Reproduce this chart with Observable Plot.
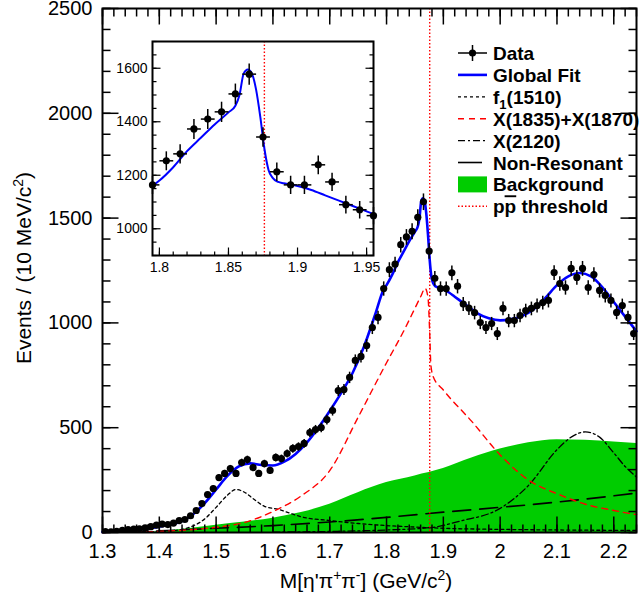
<!DOCTYPE html>
<html><head><meta charset="utf-8">
<script src="https://cdn.jsdelivr.net/npm/d3@7"></script>
<script src="https://cdn.jsdelivr.net/npm/@observablehq/plot@0.6"></script>
<style>
html,body{margin:0;padding:0;background:white;}
#wrap{position:relative;width:639px;height:601px;overflow:hidden;background:white;}
#wrap > svg{position:absolute;}
#err{position:absolute;left:2px;bottom:2px;font:9px monospace;color:#900;margin:0;z-index:9;white-space:pre-wrap;width:630px}
</style></head><body><div id="wrap"><pre id="err"></pre></div>
<script>
window.onerror = (m, s, l, c, e) => { document.getElementById("err").textContent += "ERR " + m + " @" + l + ":" + c + "\n"; };
</script>
<script>
// ---------- data ----------
const dataCounts = [4,3,5,10,14,16,18,22,28,35,
  40,38,45,57,62,80,105,138,181,210,
  262,282,305,282,334,348,310,282,329,296,
  358,353,377,401,410,425,477,491,501,539,
  582,677,682,740,821,840,892,978,1026,1164,
  1254,1280,1373,1410,1437,1504,1578,1343,1213,1164,
  1164,1239,1175,1090,1071,1049,1002,978,997,949,
  1069,1011,1011,1035,1059,1069,1083,1097,1107,1240,
  1188,1169,1260,1217,1260,1169,1231,1155,1131,1107,
  1050,1083,1026,949];
const binFirstCenter = 1.305, binWidth = 0.01;

const fitX = [1.30,1.32,1.34,1.36,1.38,1.40,1.42,1.44,1.46,1.48,1.50,1.52,1.54,1.56,1.58,1.60,1.62,1.64,1.66,1.68,1.70,1.72,1.74,1.76,1.78,1.795,1.80,1.81,1.82,1.83,1.84,1.85,1.855,1.858,1.861,1.864,1.867,1.87,1.873,1.876,1.879,1.882,1.886,1.89,1.90,1.91,1.92,1.93,1.94,1.95,1.96,1.98,2.00,2.02,2.04,2.06,2.08,2.10,2.12,2.14,2.16,2.18,2.20,2.22,2.24];
const fitY = [3,6,10,14,20,28,38,55,88,140,205,270,315,330,322,320,338,375,430,500,580,665,760,885,1040,1160,1180,1230,1290,1340,1390,1435,1460,1500,1580,1595,1580,1520,1420,1300,1220,1190,1175,1170,1160,1145,1125,1105,1085,1065,1045,1022,1012,1018,1035,1068,1120,1180,1222,1238,1222,1170,1100,1030,960];

const x18X = [1.30,1.35,1.40,1.45,1.50,1.55,1.60,1.65,1.70,1.75,1.80,1.83,1.85,1.86,1.868,1.873,1.876,1.878,1.882,1.90,1.95,2.00,2.05,2.10,2.15,2.20,2.24];
const x18Y = [0,2,5,12,25,48,100,175,295,550,810,960,1070,1125,1165,1120,950,800,745,680,530,370,250,185,135,105,85];

const f1X = [1.30,1.38,1.42,1.44,1.46,1.48,1.50,1.52,1.535,1.55,1.565,1.585,1.61,1.63,1.65,1.70,1.75,1.80,1.85,1.90,2.00,2.10,2.24];
const f1Y = [0,2,8,15,32,65,120,178,205,192,162,125,110,92,75,57,43,33,26,20,15,12,10];

const x2120X = [1.60,1.70,1.80,1.88,1.93,2.00,2.05,2.10,2.125,2.15,2.175,2.20,2.22,2.24];
const x2120Y = [2,5,12,24,55,115,225,395,455,480,455,380,315,265];

const nrX = [1.30,1.40,1.50,1.60,1.70,1.80,1.90,2.00,2.10,2.20,2.24];
const nrY = [0,8,20,33,50,72,97,120,145,175,188];

const bgX = [1.38,1.40,1.45,1.50,1.55,1.60,1.65,1.70,1.75,1.80,1.85,1.90,1.95,2.00,2.05,2.10,2.15,2.20,2.24];
const bgY = [0,5,18,35,50,68,95,135,190,238,270,305,355,398,428,443,440,432,425];

const threshold = 1.876;

const xTickValues = [1.3,1.4,1.5,1.6,1.7,1.8,1.9,2.0,2.1,2.2];
const yTickValues = [0,500,1000,1500,2000,2500];
const insetXTicks = [1.8,1.85,1.9,1.95];
const insetYTicks = [1000,1200,1400,1600];

const legendLabels = ["Data","Global Fit","f1(1510)","X(1835)+X(1870)","X(2120)","Non-Resonant","Background","pp threshold"];

// ---------- tables ----------
const pts = (xs, ys) => xs.map((x, i) => ({x, y: ys[i]}));
const data = dataCounts.map((c, i) => ({x: +(binFirstCenter + i*binWidth).toFixed(3), y: c, e: Math.sqrt(c)}));
const fit = pts(fitX, fitY), x18 = pts(x18X, x18Y), f1 = pts(f1X, f1Y),
      x2120 = pts(x2120X, x2120Y), nr = pts(nrX, nrY), bg = pts(bgX, bgY);

const FONT = "'Liberation Sans', Arial, Helvetica, sans-serif";
const fmt = d => String(+d.toFixed(2));
const fmtY = d => String(d);

// inward ROOT-style ticks drawn as links through the plot's scales
// (tick length given in pixels and converted with the frame's pixels-per-unit)
function tickLinks(vals, side, lenPx, xd, yd, fw, fh, sw) {
  const xu = (xd[1] - xd[0]) / fw, yu = (yd[1] - yd[0]) / fh;
  const o = {stroke: "black", strokeWidth: sw};
  if (side === "bottom") return Plot.link(vals, {x1: d => d, x2: d => d, y1: () => yd[0], y2: () => yd[0] + lenPx*yu, ...o});
  if (side === "top") return Plot.link(vals, {x1: d => d, x2: d => d, y1: () => yd[1], y2: () => yd[1] - lenPx*yu, ...o});
  if (side === "left") return Plot.link(vals, {y1: d => d, y2: d => d, x1: () => xd[0], x2: () => xd[0] + lenPx*xu, ...o});
  return Plot.link(vals, {y1: d => d, y2: d => d, x1: () => xd[1], x2: () => xd[1] - lenPx*xu, ...o});
}

// ---------- main plot ----------
const W = 639, H = 601, ML = 102, MR = 3, MT = 8, MB = 69;
const FW = W - ML - MR, FH = H - MT - MB;
const xMinor = d3.range(0, 48).map(i => 1.3 + i*0.02);
const yMinor = d3.range(0, 26).map(i => i*100);
const XD = [1.3, 2.24], YD = [0, 2500];

const main = Plot.plot({
  width: W, height: H,
  marginLeft: ML, marginRight: MR, marginTop: MT, marginBottom: MB,
  x: {domain: XD}, y: {domain: YD},
  style: {fontFamily: FONT, fontSize: "20px", background: "white", overflow: "visible"},
  marks: [
    Plot.areaY(bg, {x: "x", y: "y", fill: "#00cc00", curve: "monotone-x"}),
    Plot.line(nr, {x: "x", y: "y", stroke: "black", strokeWidth: 1.6, strokeDasharray: "18,9", curve: "monotone-x"}),
    Plot.line(x2120, {x: "x", y: "y", stroke: "black", strokeWidth: 1.3, strokeDasharray: "7,3,2,3", curve: "monotone-x"}),
    Plot.line(f1, {x: "x", y: "y", stroke: "black", strokeWidth: 1.3, strokeDasharray: "3,3", curve: "monotone-x"}),
    Plot.line(x18, {x: "x", y: "y", stroke: "#ff0000", strokeWidth: 1.4, strokeDasharray: "6,5", curve: "monotone-x"}),
    Plot.ruleX([threshold], {stroke: "#ff0000", strokeWidth: 1.4, strokeDasharray: "1.5,2"}),
    Plot.line(fit, {x: "x", y: "y", stroke: "#0000ff", strokeWidth: 2.6, curve: "monotone-x"}),
    Plot.link(data, {x1: "x", x2: "x", y1: d => d.y - d.e, y2: d => d.y + d.e, stroke: "black", strokeWidth: 1.5, clip: true}),
    Plot.link(data, {x1: d => d.x - binWidth/2, x2: d => d.x + binWidth/2, y1: "y", y2: "y", stroke: "black", strokeWidth: 1.5, clip: true}),
    Plot.dot(data, {x: "x", y: "y", r: 3.6, fill: "black", clip: true}),
    tickLinks(xMinor, "bottom", 8, XD, YD, FW, FH, 1.5), tickLinks(xTickValues, "bottom", 16, XD, YD, FW, FH, 1.5),
    tickLinks(xMinor, "top", 8, XD, YD, FW, FH, 1.5), tickLinks(xTickValues, "top", 16, XD, YD, FW, FH, 1.5),
    tickLinks(yMinor, "left", 8, XD, YD, FW, FH, 1.5), tickLinks(yTickValues, "left", 16, XD, YD, FW, FH, 1.5),
    tickLinks(yMinor, "right", 8, XD, YD, FW, FH, 1.5), tickLinks(yTickValues, "right", 16, XD, YD, FW, FH, 1.5),
    Plot.frame({stroke: "black", strokeWidth: 2}),
    Plot.axisX(xTickValues, {tickSize: 0, tickPadding: 11, fontSize: 20, tickFormat: fmt, label: null}),
    Plot.axisY(yTickValues, {tickSize: 0, tickPadding: 10, fontSize: 20, tickFormat: fmtY, label: null})
  ]
});
main.style.left = "0px"; main.style.top = "0px";

// axis titles
const ms = d3.select(main);
const yl = ms.append("text").attr("font-family", FONT).attr("font-size", 21).attr("fill", "black")
  .attr("text-anchor", "middle").attr("transform", "translate(31,268) rotate(-90)");
yl.append("tspan").text("Events / (10 MeV/c");
yl.append("tspan").attr("font-size", 14).attr("dy", -8).text("2");
yl.append("tspan").attr("dy", 8).text(")");

const xl = ms.append("text").attr("font-family", FONT).attr("font-size", 21).attr("fill", "black")
  .attr("text-anchor", "middle").attr("x", 366).attr("y", 588);
xl.append("tspan").text("M[η'π");
xl.append("tspan").attr("font-size", 14).attr("dy", -8).text("+");
xl.append("tspan").attr("dy", 8).text("π");
xl.append("tspan").attr("font-size", 14).attr("dy", -8).text("-");
xl.append("tspan").attr("dy", 8).text("] (GeV/c");
xl.append("tspan").attr("font-size", 14).attr("dy", -8).text("2");
xl.append("tspan").attr("dy", 8).text(")");

// legend
const lg = ms.append("g").attr("font-family", FONT).attr("font-weight", "bold").attr("font-size", 19)
  .attr("fill", "black").attr("text-anchor", "start");
const L0 = 458, L1 = 487, TX = 493;
const rowY = legendLabels.map((_, i) => 53 + i*21.9);
const seg = (cy, stroke, sw, dash) => lg.append("line").attr("x1", L0).attr("x2", L1).attr("y1", cy).attr("y2", cy)
  .attr("stroke", stroke).attr("stroke-width", sw).attr("stroke-dasharray", dash || null);
seg(rowY[0], "black", 1.5);
lg.append("line").attr("x1", (L0+L1)/2).attr("x2", (L0+L1)/2).attr("y1", rowY[0]-8).attr("y2", rowY[0]+8).attr("stroke", "black").attr("stroke-width", 1.5);
lg.append("circle").attr("cx", (L0+L1)/2).attr("cy", rowY[0]).attr("r", 3.6).attr("fill", "black");
seg(rowY[1], "#0000ff", 2.6);
seg(rowY[2], "black", 1.3, "3,3");
seg(rowY[3], "#ff0000", 1.4, "6,5");
seg(rowY[4], "black", 1.3, "7,3,2,3");
seg(rowY[5], "black", 1.6, "24,9");
lg.append("rect").attr("x", L0).attr("y", rowY[6]-8).attr("width", L1-L0).attr("height", 16).attr("fill", "#00cc00");
seg(rowY[7], "#ff0000", 1.4, "1.5,2");
legendLabels.forEach((lab, i) => {
  const t = lg.append("text").attr("x", TX).attr("y", rowY[i] + 7);
  if (i === 2) {
    t.append("tspan").text("f");
    t.append("tspan").attr("font-size", 13).attr("dy", 5).text("1");
    t.append("tspan").attr("dy", -5).text("(1510)");
  } else if (i === 7) {
    t.append("tspan").text("p");
    t.append("tspan").style("text-decoration", "overline").text("p");
    t.append("tspan").text(" threshold");
  } else t.text(lab);
});

// ---------- inset ----------
const IW = 290, IH = 252, IML = 52, IMR = 17, IMT = 13, IMB = 25, ILEFT = 100, ITOP = 28;
const IFW = IW - IML - IMR, IFH = IH - IMT - IMB;
const IXD = [1.795, 1.955], IYD = [900, 1700];
const insetData = data.filter(d => d.x >= IXD[0] - 1e-9 && d.x <= IXD[1] + 1e-9);
const insetFit = fit.filter(d => d.x >= 1.79);
const ixMinor = d3.range(0, 16).map(i => 1.8 + i*0.01);
const iyMinor = d3.range(0, 17).map(i => 900 + i*50);
const inset = Plot.plot({
  width: IW, height: IH,
  marginLeft: IML, marginRight: IMR, marginTop: IMT, marginBottom: IMB,
  x: {domain: IXD}, y: {domain: IYD},
  style: {fontFamily: FONT, fontSize: "14px", background: "transparent", overflow: "visible"},
  marks: [
    Plot.ruleX([threshold], {stroke: "#ff0000", strokeWidth: 1.4, strokeDasharray: "1.5,2"}),
    Plot.line(insetFit, {x: "x", y: "y", stroke: "#0000ff", strokeWidth: 2, curve: "monotone-x", clip: true}),
    Plot.link(insetData, {x1: "x", x2: "x", y1: d => d.y - d.e, y2: d => d.y + d.e, stroke: "black", strokeWidth: 1.5}),
    Plot.link(insetData, {x1: d => d.x - binWidth/2, x2: d => d.x + binWidth/2, y1: "y", y2: "y", stroke: "black", strokeWidth: 1.5, clip: true}),
    Plot.dot(insetData, {x: "x", y: "y", r: 3.6, fill: "black"}),
    tickLinks(ixMinor, "bottom", 4, IXD, IYD, IFW, IFH, 1.2), tickLinks(insetXTicks, "bottom", 8, IXD, IYD, IFW, IFH, 1.2),
    tickLinks(iyMinor, "left", 4, IXD, IYD, IFW, IFH, 1.2), tickLinks(insetYTicks, "left", 8, IXD, IYD, IFW, IFH, 1.2),
    tickLinks(iyMinor, "right", 4, IXD, IYD, IFW, IFH, 1.2), tickLinks(insetYTicks, "right", 8, IXD, IYD, IFW, IFH, 1.2),
    Plot.frame({stroke: "black", strokeWidth: 2}),
    Plot.axisX(insetXTicks, {tickSize: 0, tickPadding: 7, fontSize: 14, tickFormat: fmt, label: null}),
    Plot.axisY(insetYTicks, {tickSize: 0, tickPadding: 5, fontSize: 14, tickFormat: fmtY, label: null})
  ]
});
inset.style.left = ILEFT + "px"; inset.style.top = ITOP + "px";

const wrap = document.getElementById("wrap");
wrap.appendChild(main);
wrap.appendChild(inset);
</script></body></html>
